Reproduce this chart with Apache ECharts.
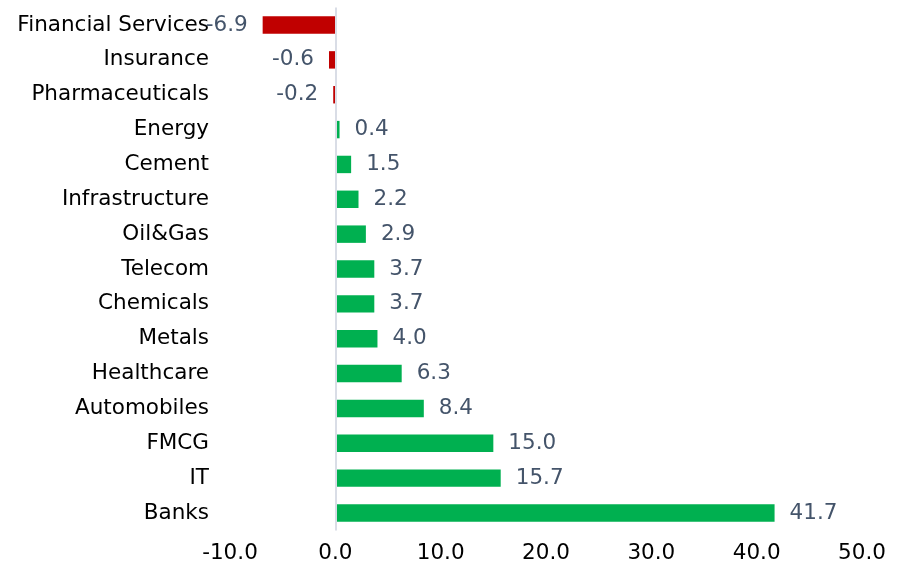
<!DOCTYPE html>
<html><head><meta charset="utf-8">
<script src="https://cdn.jsdelivr.net/npm/echarts@6/dist/echarts.min.js"></script>
<style>html,body{margin:0;padding:0;background:#fff}#c{width:904px;height:574px}</style>
</head><body><div id="c"></div>
<script>
const categories = ["Financial Services","Insurance","Pharmaceuticals","Energy","Cement","Infrastructure","Oil&Gas","Telecom","Chemicals","Metals","Healthcare","Automobiles","FMCG","IT","Banks"];
const values = [-6.9,-0.6,-0.2,0.4,1.5,2.2,2.9,3.7,3.7,4.0,6.3,8.4,15.0,15.7,41.7];
const xTicks = [-10,0,10,20,30,40,50];

const FONT = 'DejaVu Sans';
const FS = 21.5;
const chart = echarts.init(document.getElementById('c'));
chart.setOption({
  animation:false,
  grid:{left:230,right:42,top:7.6,bottom:43.6},
  xAxis:{type:'value',min:xTicks[0],max:xTicks[xTicks.length-1],interval:10,
    axisLine:{show:false},axisTick:{show:false},splitLine:{show:false},
    axisLabel:{formatter:v=>v.toFixed(1),color:'#000',fontFamily:FONT,fontSize:FS,margin:12}},
  yAxis:{type:'category',data:categories,inverse:true,
    axisLine:{show:false,onZero:false},axisTick:{show:false},
    axisLabel:{color:'#000',fontFamily:FONT,fontSize:FS,margin:21}},
  series:[{type:'bar',barWidth:'50%',
    data:values.map(v=>({value:v,
      itemStyle:{color:v<0?'#C00000':'#00B050'},
      label:{show:true,position:v<0?'left':'right',distance:15,
        formatter:p=>p.value.toFixed(1),color:'#44546A',fontFamily:FONT,fontSize:FS}})),
    markLine:{silent:true,symbol:'none',label:{show:false},
      lineStyle:{color:'#D9DDE6',width:2,type:'solid'},data:[{xAxis:0}]}
  }]
});
</script></body></html>
